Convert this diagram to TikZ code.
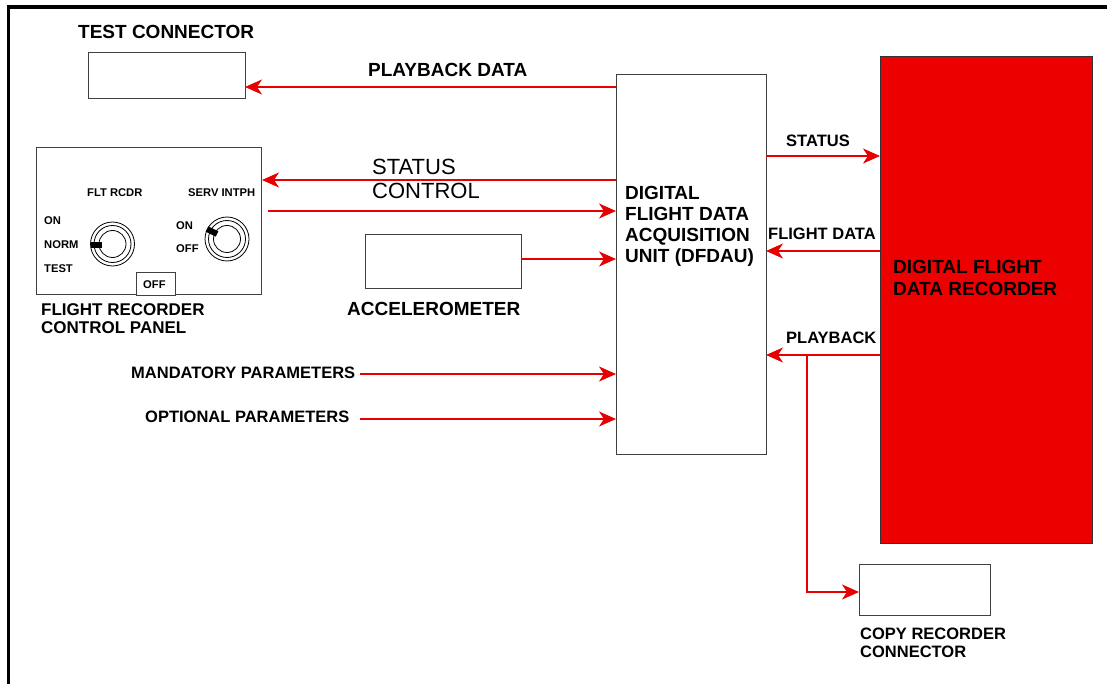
\documentclass[tikz,border=0pt]{standalone}
\usepackage{fontspec}
\setmainfont{Liberation Sans}
\usetikzlibrary{positioning,arrows.meta,calc}
\definecolor{sigred}{RGB}{232,0,0}
\definecolor{recred}{RGB}{236,0,0}

\begin{document}
\begin{tikzpicture}[x=1pt,y=-1pt,
		box/.style={draw=black!75,line width=1pt,fill=white,anchor=north west,inner sep=0pt,outer sep=0pt},
		sig/.style={draw=sigred,line width=1.8pt,-{Stealth[length=17pt,width=15pt,inset=5pt]}},
		big/.style={font=\bfseries\fontsize{19}{21}\selectfont,inner sep=0pt,anchor=base west,align=left},
		small/.style={font=\bfseries\fontsize{16.5}{18}\selectfont,inner sep=0pt,anchor=base west,align=left},
		tiny/.style={font=\bfseries\fontsize{11.2}{13}\selectfont,inner sep=0pt,anchor=base west},
		plain/.style={font=\fontsize{22}{24}\selectfont,inner sep=0pt,anchor=base west}]
	
	\useasboundingbox (0,0) rectangle (1107,684);
	
	% frame
	\draw[line width=3.3pt] (8.3,684) -- (8.3,7) -- (1107,7);
	
	% boxes
	\node[box,minimum width=157,minimum height=46] (testconn) at (88,53) {};
	\node[box,minimum width=225,minimum height=147] (panel) at (36,148) {};
	\node[box,minimum width=39,minimum height=23] (offtab) at (136,273) {};
	\node[box,minimum width=156,minimum height=54] (accel) at (365,235) {};
	\node[box,minimum width=150,minimum height=379] (dfdau) at (616,75) {};
	\node[box,fill=recred,draw=black!80,minimum width=212,minimum height=486] (dfdr) at (880,57) {};
	\node[box,minimum width=131,minimum height=51] (copyconn) at (859,564) {};
	
	% texts (multi-line ones sit on their last line)
	\node[big] (ttest) at (78,39) {TEST CONNECTOR};
	\node[big] (tpbdata) at (368,77) {PLAYBACK DATA};
	\node[big] (tdfdau) at (625,263) {DIGITAL\\FLIGHT DATA\\ACQUISITION\\UNIT (DFDAU)};
	\node[big] (tdfdr) at (893,295) {DIGITAL FLIGHT\\[0.5pt]DATA RECORDER};
	\node[big] (taccel) at (347,316) {ACCELEROMETER};
	\node[small,font=\bfseries\fontsize{17}{18}\selectfont] (tpanel) at (41,333) {FLIGHT RECORDER\\CONTROL PANEL};
	\node[small] (tstat) at (786,147) {STATUS};
	\node[small] (tfdata) at (768,240) {FLIGHT DATA};
	\node[small] (tpb) at (786,343) {PLAYBACK};
	\node[small] (tcopy) at (860,657) {COPY RECORDER\\CONNECTOR};
	\node[small] (tmand) at (131,378) {MANDATORY PARAMETERS};
	\node[small] (topt) at (145,422) {OPTIONAL PARAMETERS};
	\node[plain] (tstatus) at (372,175) {STATUS};
	\node[plain] (tcontrol) at (372,199) {CONTROL};
	
	% control panel details
	\node[tiny] (tflt) at (87,197) {FLT RCDR};
	\node[tiny] (tserv) at (188,197) {SERV INTPH};
	\node[tiny] (ton) at (44,225) {ON};
	\node[tiny] (tnorm) at (44,249) {NORM};
	\node[tiny] (ttst) at (44,273) {TEST};
	\node[tiny] (ton2) at (176,230) {ON};
	\node[tiny] (toff2) at (176,253) {OFF};
	\node[tiny] (toff) at (143,288) {OFF};
	
	\coordinate (knob1) at (112.5,244);
	\coordinate (knob2) at (227,239);
	\foreach \k in {knob1,knob2}
	{
		\draw[line width=0.8pt] (\k) circle (22);
		\draw[line width=0.8pt] (\k) circle (18.5);
		\draw[line width=0.8pt] (\k) circle (13.5);
	}
	\draw[line width=6pt] ($(knob1)+(-10.5,1)$) -- ($(knob1)+(-21.5,1)$);
	\draw[line width=6pt] ($(knob2)+(-10,-5)$) -- ($(knob2)+(-20,-10)$);
	
	% rows
	\coordinate (rpb) at (0,87);
	\coordinate (rstat) at (0,180);
	\coordinate (rctl) at (0,211);
	\coordinate (racc) at (0,259);
	\coordinate (rmand) at (0,374);
	\coordinate (ropt) at (0,419);
	\coordinate (rst) at (0,156);
	\coordinate (rfd) at (0,251);
	\coordinate (rpl) at (0,355);
	\coordinate (rcp) at (0,592);
	\coordinate (split) at (807,355);
	
	% connectors
	\draw[sig] (dfdau.west |- rpb) -- (testconn.east |- rpb);
	\draw[sig] (dfdau.west |- rstat) -- ([xshift=1]panel.east |- rstat);
	\draw[sig] ([xshift=7]panel.east |- rctl) -- (dfdau.west |- rctl);
	\draw[sig] (accel.east |- racc) -- (dfdau.west |- racc);
	\draw[sig] ([xshift=5]tmand.east |- rmand) -- (dfdau.west |- rmand);
	\draw[sig] ([xshift=10]topt.east |- ropt) -- (dfdau.west |- ropt);
	\draw[sig] (dfdau.east |- rst) -- (dfdr.west |- rst);
	\draw[sig] (dfdr.west |- rfd) -- (dfdau.east |- rfd);
	\draw[sig] (dfdr.west |- rpl) -- (dfdau.east |- rpl);
	\draw[sig] (split) -- (split |- rcp) -- (copyconn.west |- rcp);
	
\end{tikzpicture}
\end{document}
